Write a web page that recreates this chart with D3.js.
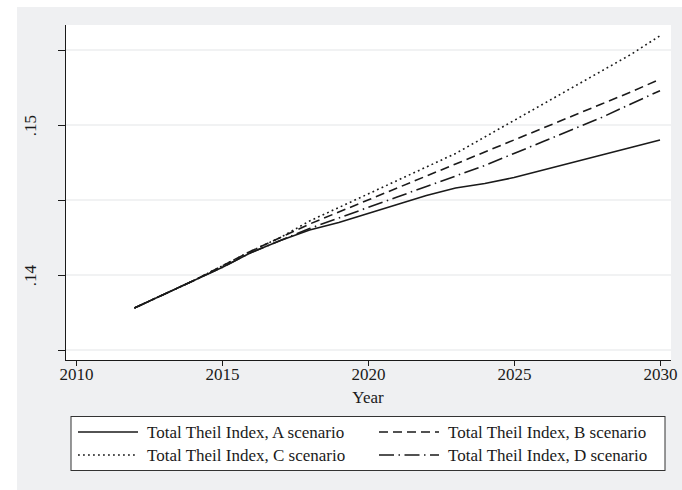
<!DOCTYPE html>
<html>
<head>
<meta charset="utf-8">
<script src="https://cdnjs.cloudflare.com/ajax/libs/d3/7.8.5/d3.min.js"></script>
<style>
  html, body { margin: 0; padding: 0; background: #ffffff; }
  svg text { font-family: "Liberation Serif", "Times New Roman", serif; fill: #1a1a1a; }
</style>
</head>
<body>
<svg id="chart" width="682" height="490"></svg>
<script>
// Projected total Theil index by scenario, 2012-2030
const years = [2012, 2013, 2014, 2015, 2016, 2017, 2018, 2019, 2020, 2021,
               2022, 2023, 2024, 2025, 2026, 2027, 2028, 2029, 2030];
const theilA = [0.1378, 0.1387, 0.1396, 0.1405, 0.1415, 0.1423, 0.1430, 0.1435, 0.1441, 0.1447,
                0.1453, 0.1458, 0.1461, 0.1465, 0.1470, 0.1475, 0.1480, 0.1485, 0.1490];
const theilB = [0.1378, 0.1387, 0.1396, 0.1406, 0.1416, 0.1425, 0.1434, 0.1442, 0.1450, 0.1458,
                0.1466, 0.1474, 0.1482, 0.1490, 0.1498, 0.1506, 0.1514, 0.1522, 0.15305];
const theilC = [0.1378, 0.1387, 0.1396, 0.1406, 0.1416, 0.1425, 0.1436, 0.1445, 0.1454, 0.1463,
                0.1472, 0.1481, 0.1492, 0.1503, 0.1514, 0.1525, 0.1536, 0.1547, 0.15595];
const theilD = [0.1378, 0.1387, 0.1396, 0.1405, 0.1415, 0.1423, 0.1431, 0.1438, 0.1445, 0.1452,
                0.1459, 0.1466, 0.1473, 0.1481, 0.1489, 0.1497, 0.1505, 0.1514, 0.15229];
const seriesNames = ["Total Theil Index, A scenario", "Total Theil Index, B scenario",
                     "Total Theil Index, C scenario", "Total Theil Index, D scenario"];
const xTicks = [2010, 2015, 2020, 2025, 2030];
const yTicks = [0.135, 0.14, 0.145, 0.15, 0.155];
const yTickLabels = { "0.14": ".14", "0.15": ".15" };
const xTitle = "Year";

const series = [
  { name: seriesNames[0], values: theilA, dash: null },
  { name: seriesNames[1], values: theilB, dash: "9,5" },
  { name: seriesNames[2], values: theilC, dash: "1.8,3.2" },
  { name: seriesNames[3], values: theilD, dash: "15,4.5,1.5,4.5" }
];

const svg = d3.select("#chart");
const ink = "#1a1a1a";
const fontSize = 17;

// graph region background
svg.append("rect").attr("x", 17).attr("y", 7).attr("width", 665).attr("height", 483)
  .attr("fill", "#eff0f2");

const plot = { left: 65, right: 671, top: 25, bottom: 360 };
svg.append("rect").attr("x", plot.left).attr("y", plot.top)
  .attr("width", plot.right - plot.left).attr("height", plot.bottom - plot.top)
  .attr("fill", "#ffffff");

const x = d3.scaleLinear().domain([2010, 2030]).range([76, 660]);
const y = d3.scaleLinear().domain([0.135, 0.155]).range([350, 50]);

// horizontal grid
svg.append("g").selectAll("line").data(yTicks).join("line")
  .attr("x1", plot.left).attr("x2", plot.right)
  .attr("y1", d => y(d)).attr("y2", d => y(d))
  .attr("stroke", "#e4e5e7").attr("stroke-width", 1.2);

// y axis, labels rotated to read bottom-up
const yAxis = svg.append("g").attr("transform", `translate(${plot.left},0)`)
  .call(d3.axisLeft(y).tickValues(yTicks).tickSize(7)
        .tickFormat(d => yTickLabels[String(+d.toFixed(3))] || ""));
yAxis.select(".domain").attr("d", `M0.5,${plot.top}V${plot.bottom + 0.5}`).attr("stroke", ink);
yAxis.selectAll("line").attr("stroke", ink);
yAxis.selectAll(".tick text")
  .attr("font-size", fontSize).attr("fill", ink)
  .attr("text-anchor", "middle")
  .attr("x", null).attr("dy", null).attr("y", null)
  .attr("transform", "translate(-29,0) rotate(-90)");

// x axis
const xAxis = svg.append("g").attr("transform", `translate(0,${plot.bottom})`)
  .call(d3.axisBottom(x).tickValues(xTicks).tickSize(6).tickPadding(2).tickFormat(d3.format("d")));
xAxis.select(".domain").attr("d", `M${plot.left},0.5H${plot.right}`).attr("stroke", ink);
xAxis.selectAll("line").attr("stroke", ink);
xAxis.selectAll("text").attr("font-size", fontSize).attr("fill", ink);

svg.append("text").attr("x", x(2020)).attr("y", 403)
  .attr("text-anchor", "middle").attr("font-size", fontSize).text(xTitle);

// scenario lines
const line = d3.line().x((d, i) => x(years[i])).y(d => y(d));
svg.append("g").selectAll("path").data(series).join("path")
  .attr("d", d => line(d.values))
  .attr("fill", "none").attr("stroke", ink).attr("stroke-width", 1.6)
  .attr("stroke-dasharray", d => d.dash);

// legend
const lg = svg.append("g");
lg.append("rect").attr("x", 71).attr("y", 416.5).attr("width", 594).attr("height", 54)
  .attr("fill", "#ffffff").attr("stroke", "#333").attr("stroke-width", 1);
const cols = [78, 379];
const rows = [432, 455];
series.forEach((s, i) => {
  const cx = cols[i % 2], cy = rows[Math.floor(i / 2)];
  lg.append("line").attr("x1", cx).attr("x2", cx + 60).attr("y1", cy).attr("y2", cy)
    .attr("stroke", ink).attr("stroke-width", 1.6).attr("stroke-dasharray", s.dash);
  lg.append("text").attr("x", cx + 69).attr("y", cy).attr("dy", "0.35em")
    .attr("font-size", fontSize).text(s.name);
});
</script>
</body>
</html>
